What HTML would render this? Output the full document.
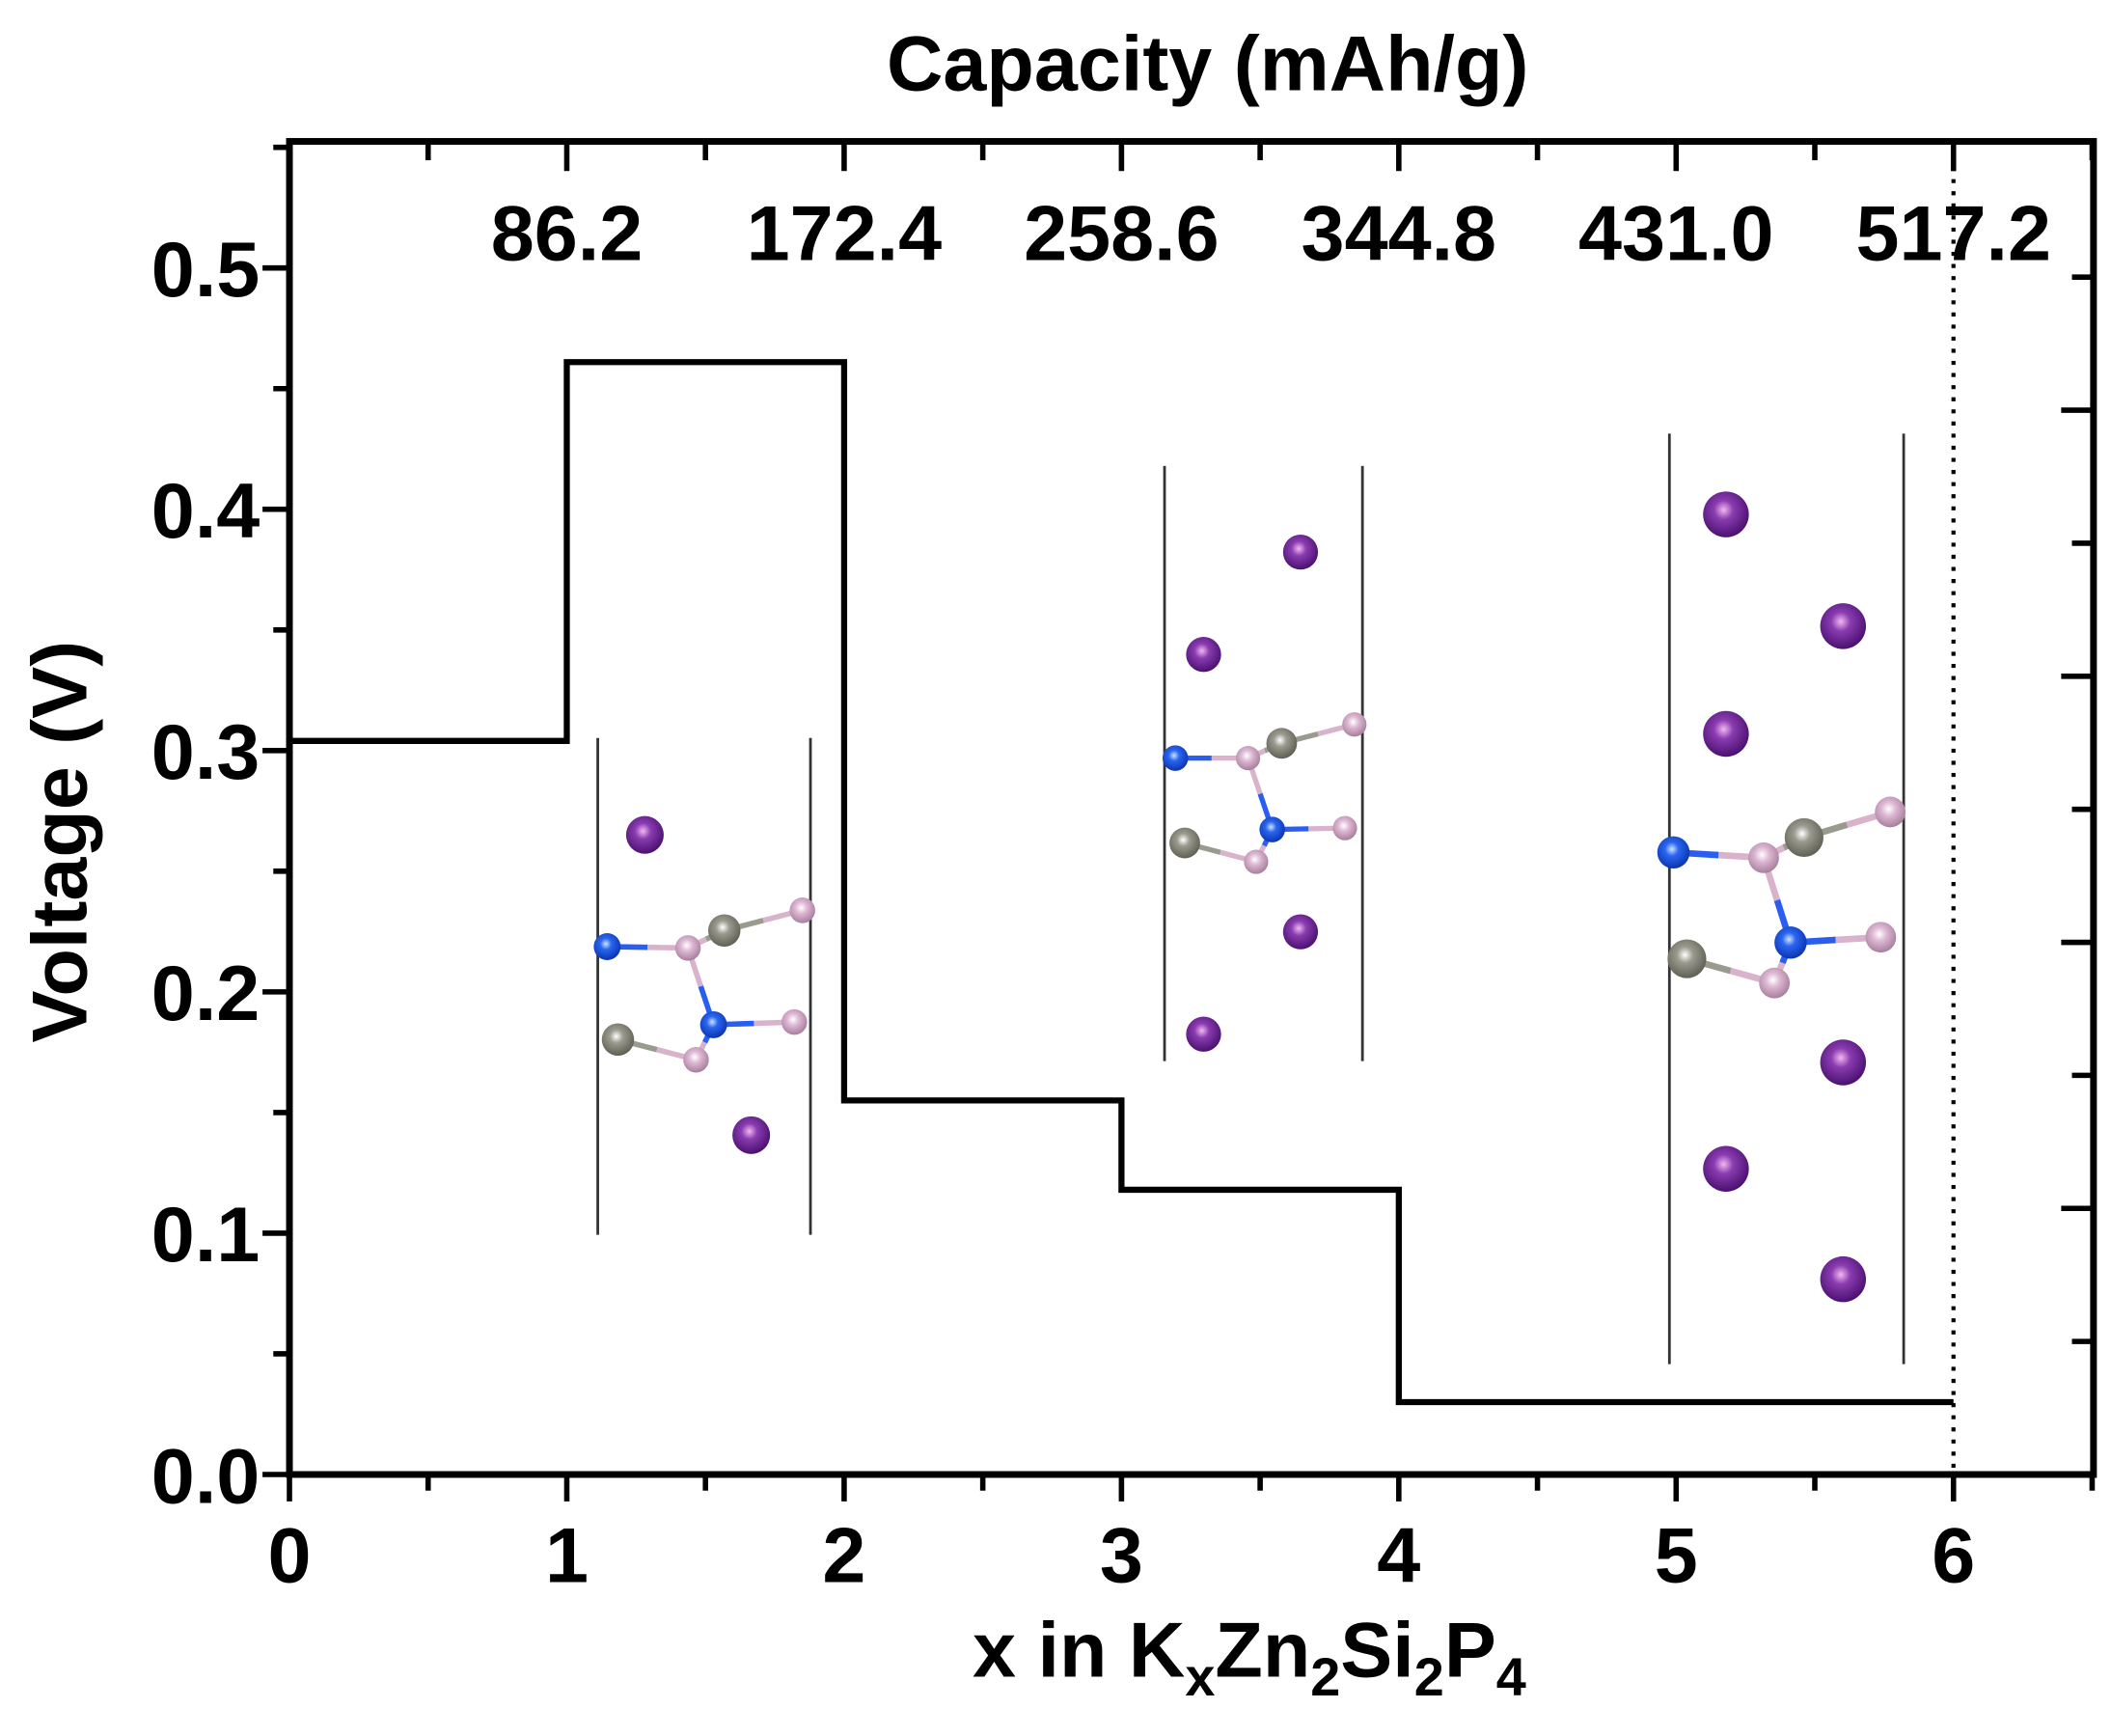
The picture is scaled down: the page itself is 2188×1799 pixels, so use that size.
<!DOCTYPE html>
<html><head><meta charset="utf-8"><style>
html,body{margin:0;padding:0;background:#fff;}
svg{display:block;}
text{font-family:"Liberation Sans",Arial,sans-serif;font-weight:bold;fill:#000;}
</style></head><body>
<svg id="chart" width="2188" height="1799" viewBox="0 0 1568 1289.2" xmlns="http://www.w3.org/2000/svg">
<defs>
<radialGradient id="gK" cx="0.45" cy="0.4" r="0.6"><stop offset="0" stop-color="#f3b8f0"/><stop offset="0.35" stop-color="#8a3cb0"/><stop offset="1" stop-color="#4a1070"/></radialGradient>
<radialGradient id="gN" cx="0.45" cy="0.4" r="0.6"><stop offset="0" stop-color="#cfe4ff"/><stop offset="0.35" stop-color="#2a66f0"/><stop offset="1" stop-color="#0b34b0"/></radialGradient>
<radialGradient id="gG" cx="0.45" cy="0.4" r="0.6"><stop offset="0" stop-color="#ffffff"/><stop offset="0.35" stop-color="#9a9a8e"/><stop offset="1" stop-color="#5f5f55"/></radialGradient>
<radialGradient id="gP" cx="0.45" cy="0.4" r="0.6"><stop offset="0" stop-color="#ffffff"/><stop offset="0.4" stop-color="#dcb6d2"/><stop offset="1" stop-color="#a77f9c"/></radialGradient>
</defs>
<g id="insets"></g>
<g id="plot"></g>
</svg>
<script>
// data
const xSteps = [0, 1, 2, 3, 4, 6];
const voltages = [0.304, 0.461, 0.155, 0.118, 0.030];
const xTicks = [0, 1, 2, 3, 4, 5, 6];
const yTicks = [0.0, 0.1, 0.2, 0.3, 0.4, 0.5];
const yTickLabels = ["0.0", "0.1", "0.2", "0.3", "0.4", "0.5"];
const capTicks = [1, 2, 3, 4, 5, 6];
const capLabels = ["86.2", "172.4", "258.6", "344.8", "431.0", "517.2"];

const X0 = 215, XU = 206, Y0 = 1095, YU = 1792;
function sx(v){ return X0 + v * XU; }
function sy(v){ return Y0 - v * YU; }
const NS = "http://www.w3.org/2000/svg";
const plot = document.getElementById('plot');
const ins = document.getElementById('insets');
function mk(tag, attrs, parent){
  const e = document.createElementNS(NS, tag);
  for (const k in attrs) e.setAttribute(k, attrs[k]);
  (parent || plot).appendChild(e);
  return e;
}

// insets (crystal structures)
const insetDefs = [
  {lines:[444,602,548,917], K:[[479,620,14],[558,843,14]],
   N:[[451,703],[530,761]], G:[[538,691],[459,772]], P:[[511,704],[596,676],[517,787],[590,759]], s:1},
  {lines:[865,1012,346,788], K:[[966,410,13],[894,486,13],[966,692,13],[894,768,13]],
   N:[[873,563],[945,616]], G:[[952,552],[880,626]], P:[[927,563],[1006,538],[933,640],[999,615]], s:0.95},
  {lines:[1240,1414,322,1013], K:[[1282,382,17],[1369,465,17],[1282,545,17],[1369,789,17],[1282,868,17],[1369,950,17]],
   N:[[1243,633],[1330,700]], G:[[1340,622],[1253,712]], P:[[1310,637],[1404,603],[1318,730],[1397,696]], s:1.2}
];
insetDefs.forEach((d, i) => {
  const g = mk('g', {}, ins);
  
  
  const L = d.lines;
  mk('line', {x1:L[0], y1:L[2], x2:L[0], y2:L[3], stroke:'#333', 'stroke-width':2}, g);
  mk('line', {x1:L[1], y1:L[2], x2:L[1], y2:L[3], stroke:'#333', 'stroke-width':2}, g);
  const N=d.N, G=d.G, P=d.P;
  const bonds = [[N[0],P[0],'#2a5ef0','#d9b3cc'],[P[0],G[0],'#d9b3cc','#9a9a8e'],[G[0],P[1],'#9a9a8e','#d9b3cc'],
    [P[0],N[1],'#d9b3cc','#2a5ef0'],[N[1],P[3],'#2a5ef0','#d9b3cc'],[G[1],P[2],'#9a9a8e','#d9b3cc'],[P[2],N[1],'#d9b3cc','#2a5ef0']];
  bonds.forEach(b => {
    const mx=(b[0][0]+b[1][0])/2, my=(b[0][1]+b[1][1])/2;
    mk('line', {x1:b[0][0], y1:b[0][1], x2:mx, y2:my, stroke:b[2], 'stroke-width':4*d.s}, g);
    mk('line', {x1:mx, y1:my, x2:b[1][0], y2:b[1][1], stroke:b[3], 'stroke-width':4*d.s}, g);
  });
  d.K.forEach(k => mk('circle', {cx:k[0], cy:k[1], r:k[2], fill:'url(#gK)'}, g));
  G.forEach(k => mk('circle', {cx:k[0], cy:k[1], r:12*d.s, fill:'url(#gG)'}, g));
  P.forEach(k => mk('circle', {cx:k[0], cy:k[1], r:9.5*d.s, fill:'url(#gP)'}, g));
  N.forEach(k => mk('circle', {cx:k[0], cy:k[1], r:10*d.s, fill:'url(#gN)'}, g));
});

// frame
const frame = mk('rect', {x:X0, y:105, width:1555-X0, height:Y0-105, fill:'none', stroke:'#000', 'stroke-width':5});



// bottom & top x ticks
for (let v = 0; v <= 6.5; v += 0.5) {
  const major = Math.abs(v - Math.round(v)) < 1e-6;
  mk('line', {x1:sx(v), y1:Y0, x2:sx(v), y2:Y0 + (major ? 20 : 12), stroke:'#000', 'stroke-width':4});
  mk('line', {x1:sx(v), y1:105, x2:sx(v), y2:105 + (major ? 22 : 14), stroke:'#000', 'stroke-width':4});
}
xTicks.forEach(v => {
  const t = mk('text', {x:sx(v), y:1175, 'font-size':58, 'text-anchor':'middle'});
  t.textContent = v;
  
  
});
capTicks.forEach((v, i) => {
  const t = mk('text', {x:sx(v), y:193, 'font-size':58, 'text-anchor':'middle'});
  t.textContent = capLabels[i];
  
  
});
// left y ticks
for (let v = 0; v <= 0.5501; v += 0.05) {
  const major = Math.abs(v*10 - Math.round(v*10)) < 1e-6;
  mk('line', {x1:X0 - (major ? 20 : 12), y1:sy(v), x2:X0, y2:sy(v), stroke:'#000', 'stroke-width':4});
}
yTicks.forEach((v, i) => {
  const t = mk('text', {x:193, y:sy(v) + 21, 'font-size':58, 'text-anchor':'end'});
  t.textContent = yTickLabels[i];
  
  
});
// right ticks
for (let k = 1; k <= 9; k++) {
  const y = Y0 - k * 98.8;
  mk('line', {x1:1555 - (k % 2 === 0 ? 24 : 16), y1:y, x2:1555, y2:y, stroke:'#000', 'stroke-width':4});
}

// dotted line at x=6
const dl = mk('line', {x1:sx(6), y1:124, x2:sx(6), y2:Y0 + 5, stroke:'#000', 'stroke-width':3, 'stroke-dasharray':'3 6'});



// step line
let d = '';
voltages.forEach((v, i) => {
  d += (i === 0 ? 'M' : 'L') + sx(xSteps[i]) + ',' + sy(v) + ' L' + sx(xSteps[i+1]) + ',' + sy(v) + ' ';
});
const step = mk('path', {d:d, fill:'none', stroke:'#000', 'stroke-width':4.5});



// titles
const tt = mk('text', {x:897, y:67, 'font-size':58, 'text-anchor':'middle'});
tt.textContent = 'Capacity (mAh/g)';


const yt = mk('text', {x:0, y:0, 'font-size':58, 'text-anchor':'middle', transform:'translate(64,625) rotate(-90)'});
yt.textContent = 'Voltage (V)';


const xt = mk('text', {x:928, y:1245, 'font-size':58, 'text-anchor':'middle'});
xt.innerHTML = 'x in K<tspan font-size="40" dy="14">x</tspan><tspan dy="-14">Zn</tspan><tspan font-size="40" dy="14">2</tspan><tspan dy="-14">Si</tspan><tspan font-size="40" dy="14">2</tspan><tspan dy="-14">P</tspan><tspan font-size="40" dy="14">4</tspan>';


</script>
</body></html>
